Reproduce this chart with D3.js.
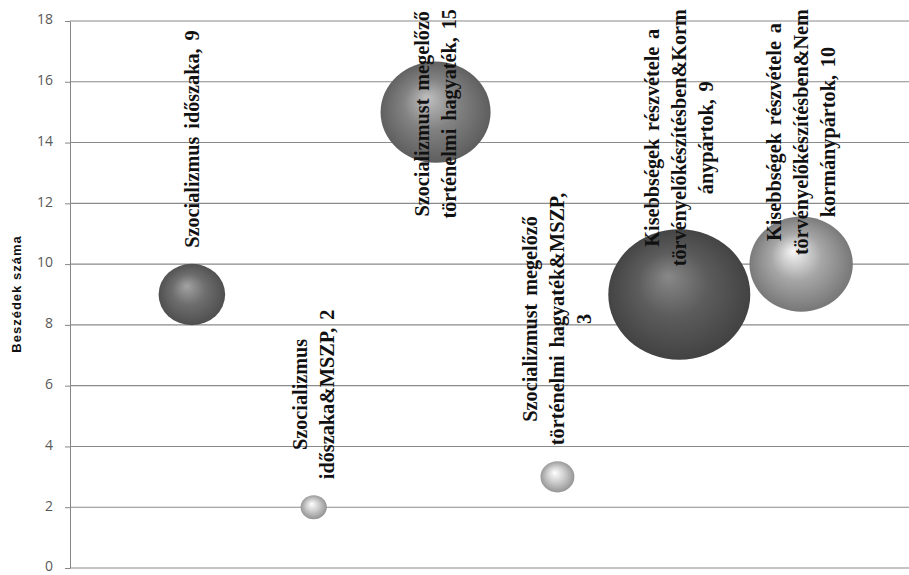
<!DOCTYPE html>
<html>
<head>
<meta charset="utf-8">
<script src="https://cdn.jsdelivr.net/npm/d3@7"></script>
<style>
  body { margin: 0; background: #fff; }
  .y-axis text { font-family: "Open Sans", sans-serif; font-size: 14px; fill: #595959; }
  .y-axis line, .y-axis path { stroke: #868686; }
  .grid line { stroke: #8a8a8a; stroke-width: 1.1; }
  .bubble-label { font-family: "Liberation Serif", "Times New Roman", serif; font-weight: bold; font-size: 22px; fill: #111; word-spacing: 3px; }
  .y-title { font-family: "Liberation Sans Narrow", "Liberation Sans", sans-serif; font-weight: bold; font-size: 13px; letter-spacing: 1px; fill: #111; }
</style>
</head>
<body>
<div id="chart"></div>
<script>
// data
const categories = [1, 2, 3, 4, 5, 6];
const speeches = [9, 2, 15, 3, 9, 10];
const bubbleSizes = [22, 3.4, 60, 5.7, 100, 53];
const labelLines = [
  ["Szocializmus  időszaka, 9"],
  ["Szocializmus", "időszaka&MSZP, 2"],
  ["Szocializmust  megelőző", "történelmi  hagyaték, 15"],
  ["Szocializmust  megelőző", "történelmi  hagyaték&MSZP,", "3"],
  ["Kisebbségek részvétele a", "törvényelőkészítésben&Korm", "ánypártok, 9"],
  ["Kisebbségek részvétele a", "törvényelőkészítésben&Nem", "kormánypártok, 10"]
];
const yTicks = [0, 2, 4, 6, 8, 10, 12, 14, 16, 18];
const yTitle = "Beszédek  száma";

// bubble base greys
const bubbleColors = ["#6e6e6e", "#cdcdcd", "#828282", "#cfcfcf", "#5c5c5c", "#a6a6a6"];

const width = 909, height = 575;
const squeeze = 0.92; // the original picture is a bit flattened vertically

const svg = d3.select("#chart").append("svg")
  .attr("width", width)
  .attr("height", height);

const xScale = d3.scaleLinear().domain([0, 7]).range([70, 923]);
const yScale = d3.scaleLinear().domain([0, 18]).range([568, 21]);
const rScale = d3.scaleSqrt().domain([0, 100]).range([0, 71]);

const data = categories.map((c, i) => ({
  x: c,
  y: speeches[i],
  size: bubbleSizes[i],
  lines: labelLines[i],
  color: bubbleColors[i]
}));

// gradients for the 3d look
const defs = svg.append("defs");
data.forEach((d, i) => {
  const g = defs.append("radialGradient")
    .attr("id", "grad" + i)
    .attr("cx", "50%").attr("cy", "50%").attr("r", "55%")
    .attr("fx", "42%").attr("fy", "36%");
  g.append("stop").attr("offset", "0%").attr("stop-color", d3.color(d.color).brighter(1.1));
  g.append("stop").attr("offset", "45%").attr("stop-color", d.color);
  g.append("stop").attr("offset", "100%").attr("stop-color", d3.color(d.color).darker(1.1));
});

// gridlines
svg.append("g").attr("class", "grid")
  .selectAll("line")
  .data(yTicks)
  .join("line")
  .attr("x1", xScale(0))
  .attr("x2", width)
  .attr("y1", d => yScale(d))
  .attr("y2", d => yScale(d));

// y axis
const yAxis = d3.axisLeft(yScale)
  .tickValues(yTicks)
  .tickSize(5)
  .tickSizeOuter(0)
  .tickPadding(12);

svg.append("g")
  .attr("class", "y-axis")
  .attr("transform", `translate(${xScale(0)},0)`)
  .call(yAxis)
  .selectAll("text")
  .attr("dy", "0.2em"); // keeps the 0 inside the frame

svg.append("text")
  .attr("class", "y-title")
  .attr("text-anchor", "middle")
  .attr("transform", `translate(21,294) rotate(-90)`)
  .text(yTitle);

// bubbles
svg.append("g").selectAll("ellipse")
  .data(data)
  .join("ellipse")
  .attr("cx", d => xScale(d.x))
  .attr("cy", d => yScale(d.y))
  .attr("rx", d => rScale(d.size))
  .attr("ry", d => rScale(d.size) * squeeze)
  .attr("fill", (d, i) => `url(#grad${i})`);

// rotated labels above bubbles, pushed down when they would leave the top
const lineH = 27;
const labelG = svg.append("g");
data.forEach(d => {
  const g = labelG.append("g");
  const t = g.append("text")
    .attr("class", "bubble-label")
    .attr("text-anchor", "middle");
  const n = d.lines.length;
  d.lines.forEach((line, k) => {
    t.append("tspan")
      .attr("x", 0)
      .attr("y", (k - (n - 1) / 2) * lineH + 7)
      .text(line);
  });
  const maxLen = d3.max(t.selectAll("tspan").nodes(), nd => nd.getComputedTextLength());
  const half = maxLen * squeeze / 2;
  const bottom = yScale(d.y) - rScale(d.size) * squeeze - 16;
  let cy = bottom - half;
  if (cy - half < 9) cy = 9 + half;
  g.attr("transform", `translate(${xScale(d.x)},${cy}) scale(1,${squeeze}) rotate(-90)`);
});
</script>
</body>
</html>
